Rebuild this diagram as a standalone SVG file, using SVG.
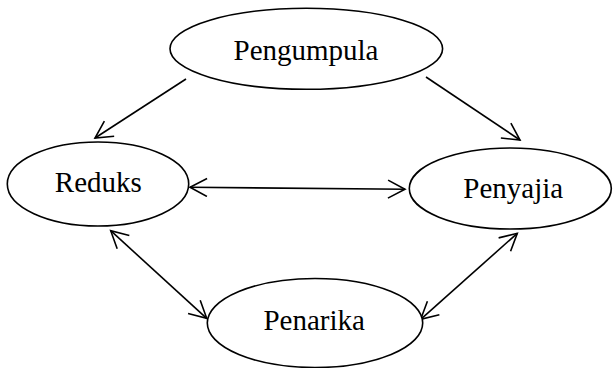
<svg xmlns="http://www.w3.org/2000/svg" width="614" height="368" viewBox="0 0 614 368">
<style>
.node ellipse{fill:#fff;stroke:#000;stroke-width:1.6}
.node text{font-family:"Liberation Serif","Times New Roman",serif;font-size:29px;fill:#000;text-anchor:middle}
.edge{stroke:#000;stroke-width:1.6;fill:none}
</style>
<defs>
<marker id="arr" markerUnits="userSpaceOnUse" markerWidth="22" markerHeight="22" refX="19" refY="10" orient="auto-start-reverse" viewBox="0 0 22 22">
<path d="M2,1 L19,10 L2,19" fill="none" stroke="#000" stroke-width="1.6"/>
</marker>
</defs>
<rect width="614" height="368" fill="#fff"/>
<g id="connectors">
<line class="edge" x1="186" y1="79" x2="95" y2="138" marker-end="url(#arr)"/>
<line class="edge" x1="426" y1="77" x2="520" y2="140" marker-end="url(#arr)"/>
<line class="edge" x1="190" y1="187.3" x2="405" y2="189.3" marker-start="url(#arr)" marker-end="url(#arr)"/>
<line class="edge" x1="110.7" y1="230.7" x2="206.7" y2="318.3" marker-start="url(#arr)" marker-end="url(#arr)"/>
<line class="edge" x1="517.3" y1="233.3" x2="420.7" y2="319.3" marker-start="url(#arr)" marker-end="url(#arr)"/>
</g>
<g id="pengumpula" class="node">
<ellipse cx="306.3" cy="48.8" rx="136.3" ry="40.5"/>
<text x="306" y="60">Pengumpula</text>
</g>
<g id="reduks" class="node">
<ellipse cx="98" cy="184" rx="90.7" ry="42"/>
<text x="98.3" y="191.7">Reduks</text>
</g>
<g id="penyajia" class="node">
<ellipse cx="510.3" cy="188.5" rx="101" ry="40.5"/>
<text x="513.3" y="198.3">Penyajia</text>
</g>
<g id="penarika" class="node">
<ellipse cx="315" cy="323" rx="107.7" ry="44.5"/>
<text x="314.2" y="330">Penarika</text>
</g>
</svg>
